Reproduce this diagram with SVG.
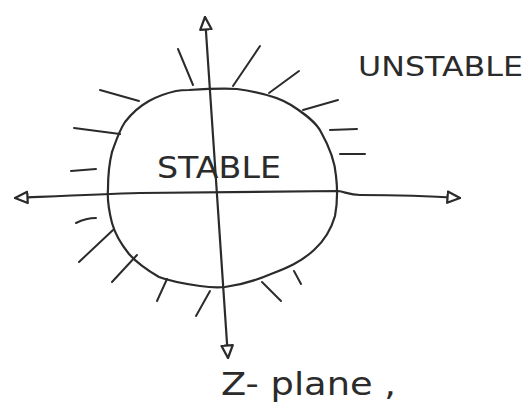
<svg xmlns="http://www.w3.org/2000/svg" width="529" height="418" viewBox="0 0 529 418">
  <style>
    .ink { fill: none; stroke: #2b2b2b; stroke-width: 2.2; stroke-linecap: round; stroke-linejoin: round; }
    .hatch { fill: none; stroke: #2b2b2b; stroke-width: 2; stroke-linecap: round; }
    .label { font-family: "DejaVu Sans", "Liberation Sans", sans-serif; fill: #2b2b2b; }
  </style>
  <defs>
    <marker id="openArrow" viewBox="0 0 12 12" refX="11" refY="6" markerWidth="15" markerHeight="15" markerUnits="userSpaceOnUse" orient="auto-start-reverse">
      <path d="M1,1.5 L11,6 L1,10.5 Z" fill="#ffffff" stroke="#2b2b2b" stroke-width="1.8" stroke-linejoin="round"/>
    </marker>
  </defs>
  <rect width="529" height="418" fill="#ffffff"/>

  <g id="stable-region">
    <path class="ink" d="M189,90 C205,89 222,88 237,89 C258,92 278,97 291,105 C305,114 316,122 321,132 C330,148 335,162 336,176 C338,192 337,205 335,216 C331,230 324,241 314,250 C301,262 287,268 271,274 C257,280 240,285 225,287 C215,288 207,287 200,286 C186,284 172,282 159,277 C147,270 137,263 129,254 C121,244 115,234 112,223 C109,211 107,200 108,189 C108,176 109,164 112,152 C116,141 119,131 125,122 C132,113 140,106 149,101 C158,96 167,93 176,91 C181,90 185,90 189,90 Z"/>
    <text class="label" x="219" y="178" font-size="30" text-anchor="middle" textLength="124" lengthAdjust="spacingAndGlyphs">STABLE</text>
  </g>

  <g id="unstable-region">
    <g class="hatches">
      <line class="hatch" x1="178" y1="49" x2="193" y2="85"/>
      <line class="hatch" x1="260" y1="46" x2="233" y2="86"/>
      <line class="hatch" x1="299" y1="71" x2="269" y2="93"/>
      <line class="hatch" x1="338" y1="100" x2="303" y2="110"/>
      <line class="hatch" x1="330" y1="130" x2="357" y2="129"/>
      <line class="hatch" x1="340" y1="154" x2="365" y2="154"/>
      <line class="hatch" x1="100" y1="90" x2="139" y2="101"/>
      <line class="hatch" x1="74" y1="128" x2="120" y2="134"/>
      <line class="hatch" x1="71" y1="171" x2="96" y2="169"/>
      <path class="hatch" d="M76,223 C82,220 89,218 96,218"/>
      <line class="hatch" x1="79" y1="262" x2="113" y2="230"/>
      <line class="hatch" x1="112" y1="282" x2="137" y2="255"/>
      <line class="hatch" x1="157" y1="301" x2="167" y2="279"/>
      <line class="hatch" x1="196" y1="316" x2="210" y2="291"/>
      <line class="hatch" x1="262" y1="282" x2="281" y2="301"/>
      <line class="hatch" x1="294" y1="271" x2="301" y2="284"/>
    </g>
    <text class="label" x="358" y="76" font-size="27" textLength="165" lengthAdjust="spacingAndGlyphs">UNSTABLE</text>
  </g>

  <g id="z-plane-label">
    <text class="label" x="221" y="395" font-size="32" textLength="175" lengthAdjust="spacingAndGlyphs">Z- plane ,</text>
  </g>

  <g id="connectors">
    <path class="ink" d="M205,17 L228,358" marker-start="url(#openArrow)" marker-end="url(#openArrow)"/>
    <path class="ink" d="M15,198 C60,196 100,194 140,193 C220,192 300,191 338,191 C345,192 350,195 360,195 C400,195 430,196 460,198" marker-start="url(#openArrow)" marker-end="url(#openArrow)"/>
  </g>
</svg>
